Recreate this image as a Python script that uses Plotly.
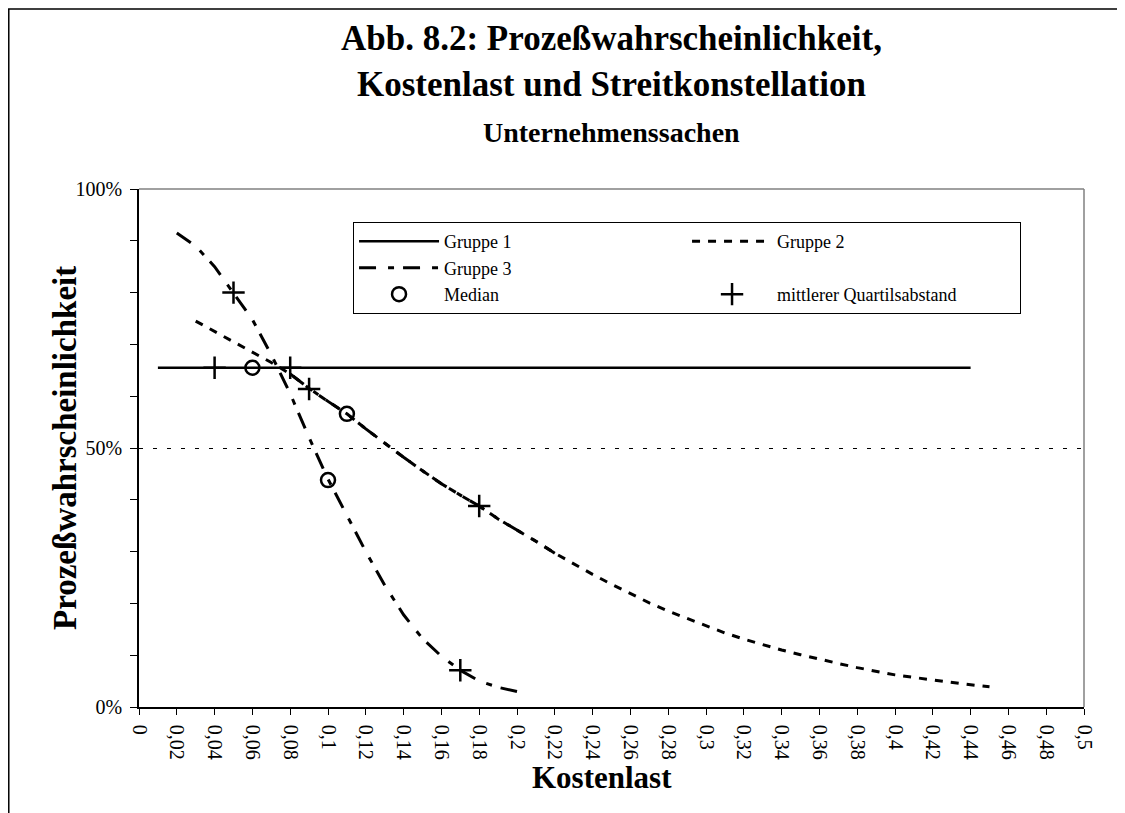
import plotly.graph_objects as go

# Kostenlast (x) und Prozesswahrscheinlichkeit in % (y)
x_g1 = [0.01, 0.44]
y_g1 = [65.5, 65.5]

x_g2 = [0.03, 0.04, 0.05, 0.06, 0.07, 0.08, 0.09, 0.10, 0.11, 0.12, 0.13, 0.14, 0.15,
        0.16, 0.17, 0.18, 0.19, 0.20, 0.21, 0.22, 0.23, 0.24, 0.25, 0.26, 0.27, 0.28,
        0.29, 0.30, 0.31, 0.32, 0.33, 0.34, 0.35, 0.36, 0.37, 0.38, 0.39, 0.40, 0.41,
        0.42, 0.43, 0.44, 0.45]
y_g2 = [74.5, 72.5, 70.5, 68.5, 66.5, 64.3, 61.5, 59.0, 56.6, 53.7, 50.9, 48.2, 45.6,
        43.1, 40.9, 38.8, 36.3, 34.2, 32.0, 29.7, 27.6, 25.6, 23.7, 21.9, 20.1, 18.5,
        17.1, 15.6, 14.3, 13.1, 12.0, 11.0, 10.1, 9.2, 8.4, 7.6, 6.9, 6.2, 5.7,
        5.2, 4.7, 4.3, 3.9]

x_g3 = [0.02, 0.03, 0.04, 0.05, 0.06, 0.07, 0.08, 0.09, 0.10, 0.11, 0.12, 0.13, 0.14,
        0.15, 0.16, 0.17, 0.18, 0.19, 0.20]
y_g3 = [91.5, 89.0, 85.0, 80.0, 74.8, 68.0, 60.5, 52.0, 44.0, 37.0, 30.0, 23.5, 17.8,
        13.2, 9.8, 7.1, 5.0, 3.8, 3.0]

median_x = [0.06, 0.11, 0.10]
median_y = [65.5, 56.6, 43.8]

quart_x = [0.04, 0.08, 0.09, 0.18, 0.05, 0.17]
quart_y = [65.5, 65.5, 61.4, 38.8, 80.0, 7.1]

y_tick_vals = [0, 50, 100]
y_tick_text = ['0%', '50%', '100%']

SERIF = "Liberation Serif, Times New Roman, serif"
G3_DASH = '17px,12px,6px,9px'

fig = go.Figure()
fig.add_trace(go.Scatter(x=x_g1, y=y_g1, mode='lines', name='Gruppe 1',
                         line=dict(color='black', width=2.5)))
fig.add_trace(go.Scatter(x=x_g2, y=y_g2, mode='lines', name='Gruppe 2',
                         line=dict(color='black', width=3, dash='8px,8px')))
fig.add_trace(go.Scatter(x=x_g3, y=y_g3, mode='lines', name='Gruppe 3',
                         line=dict(color='black', width=3, dash=G3_DASH)))
# leerer Legendenplatz
fig.add_trace(go.Scatter(x=[None], y=[None], mode='lines', name=' ',
                         line=dict(color='rgba(0,0,0,0)', width=0), hoverinfo='skip'))
# Überlagerung im mittleren Abschnitt von Gruppe 2
fig.add_trace(go.Scatter(x=x_g2[5:20], y=y_g2[5:20], mode='lines', showlegend=False,
                         line=dict(color='black', width=3, dash=G3_DASH)))
fig.add_trace(go.Scatter(x=median_x, y=median_y, mode='markers', name='Median',
                         marker=dict(symbol='circle-open', size=14, color='black',
                                     line=dict(width=2.5, color='black'))))
fig.add_trace(go.Scatter(x=quart_x, y=quart_y, mode='markers', name='mittlerer Quartilsabstand',
                         marker=dict(symbol='cross-thin-open', size=16, color='black',
                                     line=dict(width=2.5, color='black'))))

# Seite hat 8px Rand -> Ränder entsprechend kleiner
fig.update_layout(
    width=1117, height=805,
    margin=dict(l=131, r=41, t=181, b=106),
    paper_bgcolor='white', plot_bgcolor='white',
    separators=',.',
    font=dict(family=SERIF, size=20, color='black'),
    showlegend=True,
    legend=dict(orientation='h', x=0.2265, y=0.936, xanchor='left', yanchor='top',
                entrywidth=238, entrywidthmode='pixels', itemwidth=80,
                bgcolor='white', bordercolor='black', borderwidth=1,
                font=dict(family=SERIF, size=18, color='black'),
                traceorder='normal', tracegroupgap=0),
    xaxis=dict(range=[0, 0.5], dtick=0.02, tick0=0, tickangle=90,
               showline=True, linecolor='black', linewidth=1.5,
               ticks='outside', ticklen=6, tickcolor='black', ticklabelstandoff=6,
               showgrid=False, zeroline=False,
               tickfont=dict(family=SERIF, size=20)),
    yaxis=dict(range=[0, 100], tickvals=y_tick_vals, ticktext=y_tick_text,
               showline=True, linecolor='black', linewidth=1.5,
               ticks='outside', ticklen=7, tickcolor='black', ticklabelstandoff=4,
               minor=dict(dtick=10, ticks='outside', ticklen=7, tickcolor='black', showgrid=False),
               showgrid=True, gridcolor='black', gridwidth=1, griddash='4px,10px',
               zeroline=False,
               tickfont=dict(family=SERIF, size=20)),
)

# Titel und Achsentitel
fig.add_annotation(text='<b>Abb. 8.2: Prozeßwahrscheinlichkeit,</b>', xref='paper', yref='paper',
                   x=0.5, y=1.29, xanchor='center', yanchor='middle', showarrow=False,
                   font=dict(family=SERIF, size=35))
fig.add_annotation(text='<b>Kostenlast und Streitkonstellation</b>', xref='paper', yref='paper',
                   x=0.5, y=1.2026, xanchor='center', yanchor='middle', showarrow=False,
                   font=dict(family=SERIF, size=35))
fig.add_annotation(text='<b>Unternehmenssachen</b>', xref='paper', yref='paper',
                   x=0.5, y=1.11, xanchor='center', yanchor='middle', showarrow=False,
                   font=dict(family=SERIF, size=28))
fig.add_annotation(text='<b>Kostenlast</b>', xref='paper', yref='paper',
                   x=0.49, y=-0.137, xanchor='center', yanchor='middle', showarrow=False,
                   font=dict(family=SERIF, size=31))
fig.add_annotation(text='<b>Prozeßwahrscheinlichkeit</b>', xref='paper', yref='paper',
                   x=-0.0783, y=0.5, xanchor='center', yanchor='middle', showarrow=False,
                   textangle=-90, font=dict(family=SERIF, size=33))

# Rahmen der Zeichenfläche (oben/rechts grau) und Außenrahmen
fig.add_shape(type='line', xref='paper', yref='paper', x0=0, x1=1, y0=1, y1=1,
              line=dict(color='#808080', width=1.5))
fig.add_shape(type='line', xref='paper', yref='paper', x0=1, x1=1, y0=0, y1=1,
              line=dict(color='#808080', width=1.5))
fig.add_shape(type='rect', xref='paper', yref='paper', x0=-0.1378, x1=1.0402, y0=-0.3, y1=1.3475,
              line=dict(color='black', width=1.5), layer='below')

fig.write_html("out.html")
